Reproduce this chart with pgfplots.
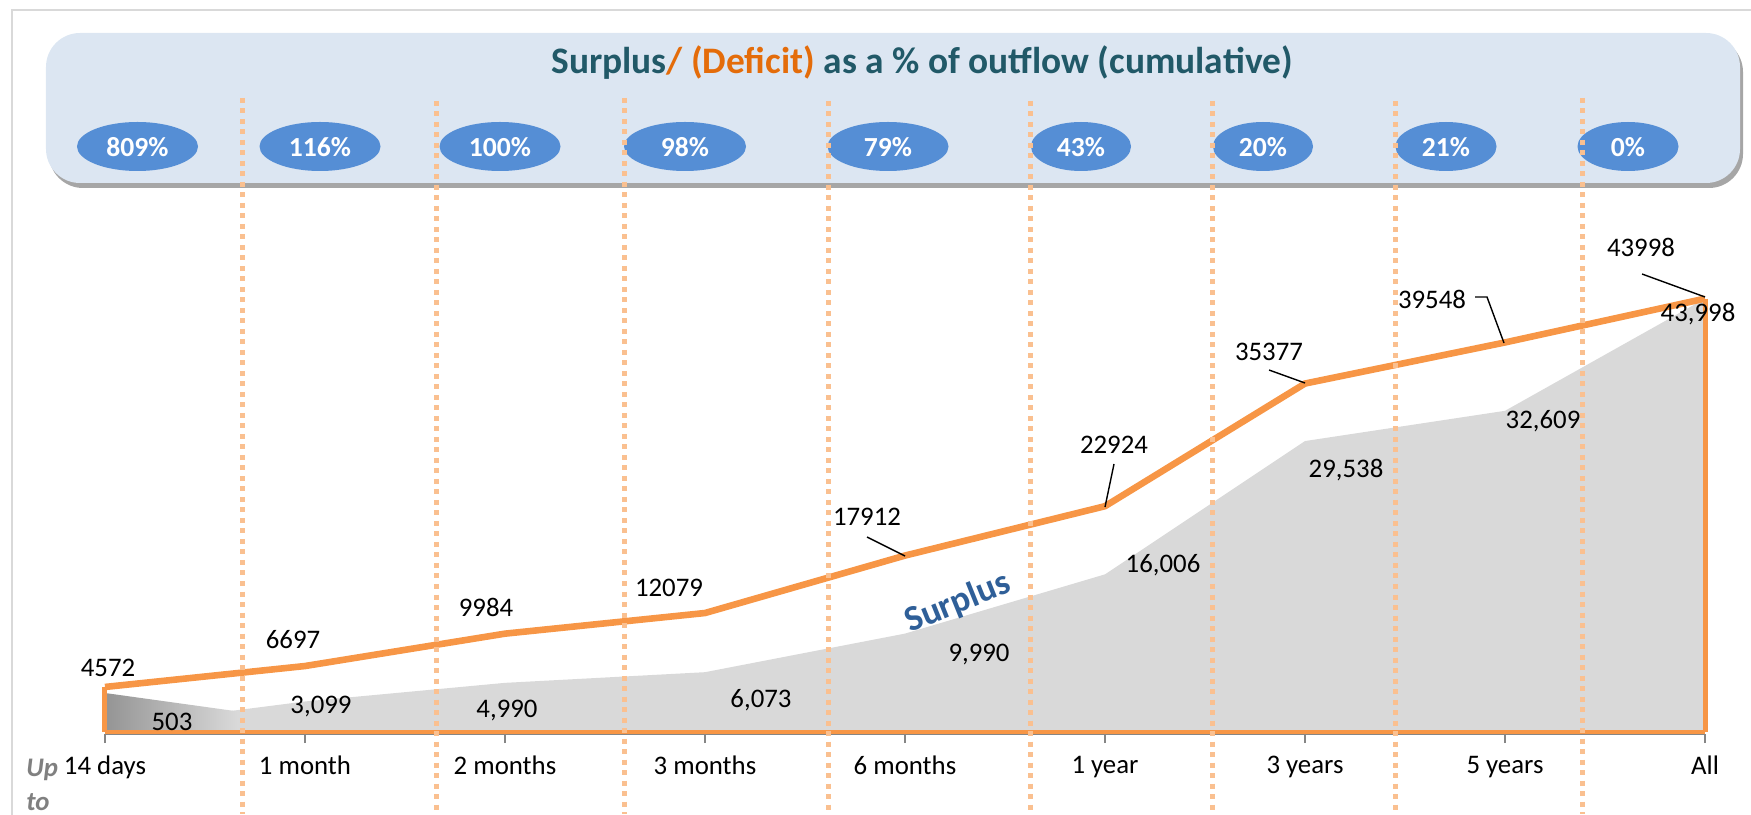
\documentclass[border=0pt]{standalone}
\usepackage{fontspec}
\setmainfont{Carlito}
\usepackage{pgfplots}
\pgfplotsset{compat=1.18}
\usetikzlibrary{shadows}
\definecolor{orng}{HTML}{F79646}
\definecolor{dotc}{HTML}{FAC090}
\definecolor{grayarea}{HTML}{D9D9D9}
\definecolor{bannerc}{HTML}{DCE6F2}
\definecolor{ellc}{HTML}{558ED5}
\definecolor{ttl}{HTML}{215968}
\definecolor{defc}{HTML}{E46C0A}
\definecolor{surp}{HTML}{2F5F98}
\definecolor{axc}{HTML}{868686}
\newcommand{\lab}{\fontsize{13.4}{15}\selectfont}
\begin{document}
\begin{tikzpicture}
\begin{scope}[x=0.5pt,y=-0.5pt,shift={(-105,-732)}]
\draw[grayarea, line width=1pt] (12,830) -- (12,10) -- (1760,10);
\fill[bannerc, rounded corners=17pt, drop shadow={shadow xshift=1.5pt, shadow yshift=-2.5pt, fill=black, opacity=0.35}] (46,33) rectangle (1740,183);
\end{scope}

\begin{axis}[at={(0,0)}, anchor=south west, scale only axis,
  width=800pt, height=246.25pt,
  xmin=0, xmax=8, ymin=0, ymax=50000, clip=false,
  axis y line=none, axis x line*=bottom, axis x line shift=1pt,
  x axis line style={draw=axc, line width=0.8pt},
  xtick={0,...,8},
  xticklabels={14 days,1 month,2 months,3 months,6 months,1 year,3 years,5 years,All},
  tick align=outside, major tick length=4.5pt,
  xtick style={draw=axc, line width=0.8pt},
  xticklabel style={font=\lab, text=black, yshift=-3pt},
]
\addplot[draw=none, fill=grayarea] coordinates {(0,503)(1,3099)(2,4990)(3,6073)(4,9990)(5,16006)(6,29538)(7,32609)(8,43998)} \closedcycle;
\addplot[draw=none, left color=black!42, right color=grayarea] coordinates {(0,0)(0,3960)(0.66,2100)(0.66,0)} -- cycle;
\addplot[orng, line width=2pt] coordinates {(0,0)(8,0)};
\addplot[orng, line width=2.5pt] coordinates {(0,0)(0,4572)};
\addplot[orng, line width=2.5pt] coordinates {(8,43998)(8,0)};
\addplot[orng, line width=3.3pt, line join=round] coordinates {(0,4572)(1,6697)(2,9984)(3,12079)(4,17912)(5,22924)(6,35377)(7,39548)(8,43998)};
\end{axis}

\begin{scope}[x=0.5pt,y=-0.5pt,shift={(-105,-732)}]
% title
\node[font=\fontsize{18.7}{22}\selectfont\bfseries, text=ttl] at (922,63) {Surplus\textcolor{defc}{/ (Deficit)} as a \% of outflow (cumulative)};
% ellipses
\foreach \cx/\w/\t in {137.5/121/809\%,320/121/116\%,500/121/100\%,685/122/98\%,888/121/79\%,1081/100/43\%,1263/100/20\%,1446/101/21\%,1628/101/0\%}{
  \fill[ellc] (\cx,146.5) ellipse [x radius=\w/2, y radius=24.5];
  \node[font=\fontsize{13.8}{16}\selectfont\bfseries, text=white] at (\cx,147) {\t};
}
% dotted separators
\foreach \xx/\yt in {242/98,436/101,624/98,828/101,1030/101,1212/101,1395/101,1582/98}{
  \draw[dotc, line width=2.5pt, dash pattern=on 2.5pt off 2.75pt] (\xx,\yt) -- (\xx,814);
}
% line labels
\foreach \xx/\yy/\t in {108/668/4572,293/640/6697,486/607/9984,669/588/12079,867/517/17912,1114/445/22924,1269/352/35377,1432/299/39548,1641/247/43998}{
  \node[font=\lab, inner sep=0pt] at (\xx,\yy) {\t};
}
% area labels
\foreach \xx/\yy/\t in {172/722/503,321/707/{3,099},507/711/{4,990},761/700/{6,073},979/655/{9,990},1163/565/{16,006},1346/470/{29,538},1543/421/{32,609},1698/314/{43,998}}{
  \node[font=\lab, inner sep=0pt] at (\xx,\yy) {\t};
}
% leaders
\draw[black, line width=0.7pt] (867,537) -- (905,556);
\draw[black, line width=0.7pt] (1114,464) -- (1105,507);
\draw[black, line width=0.7pt] (1269,370) -- (1305,383);
\draw[black, line width=0.7pt] (1475,297) -- (1487,297) -- (1504,343);
\draw[black, line width=0.7pt] (1642,274) -- (1705,297);
% Up to
\node[font=\lab\bfseries\itshape, text=black!50, anchor=west, inner sep=0pt] at (26,770) {Up};
\node[font=\lab\bfseries\itshape, text=black!50, anchor=west, inner sep=0pt] at (26,802) {to};
% Surplus
\node[font=\fontsize{18}{20}\selectfont\bfseries, text=surp, rotate=22, inner sep=0pt] at (958,603) {Surplus};
% fixed page size
\pgfresetboundingbox
\path (0,0) rectangle (1751,814);
\end{scope}
\end{tikzpicture}
\end{document}
